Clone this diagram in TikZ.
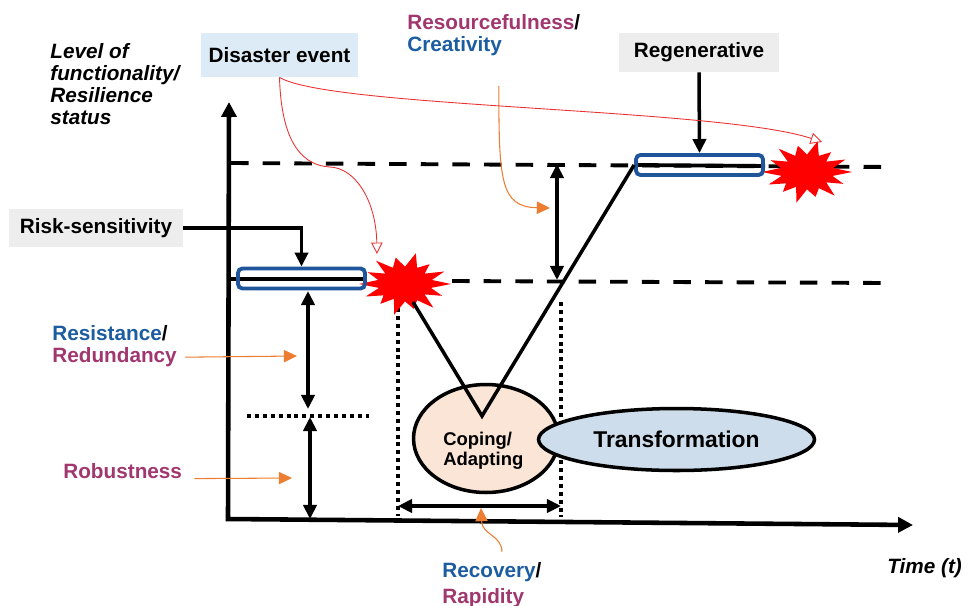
\documentclass[tikz,border=0pt]{standalone}
\usepackage{fontspec}
\setmainfont{Liberation Sans}
\usetikzlibrary{arrows.meta,shapes.geometric}

\definecolor{resblue}{RGB}{28,92,160}
\definecolor{resplum}{RGB}{160,55,110}
\definecolor{hintorange}{RGB}{237,125,49}
\definecolor{hintred}{RGB}{235,50,50}
\definecolor{burstred}{RGB}{255,0,0}
\definecolor{frameblue}{RGB}{30,85,155}
\definecolor{eventfill}{RGB}{221,235,247}
\definecolor{greyfill}{RGB}{237,237,237}
\definecolor{copefill}{RGB}{251,229,214}
\definecolor{transfill}{RGB}{205,221,235}

\tikzset{
  burst/.pic={
    \fill[burstred] (0:1) -- (13:.58) -- (26:.9) -- (39:.55) -- (52:1) -- (64:.6)
      -- (77:.85) -- (90:.58) -- (103:1.05) -- (116:.55) -- (129:.85) -- (141:.6)
      -- (154:.95) -- (167:.58) -- (180:1) -- (193:.6) -- (206:.9) -- (219:.55)
      -- (231:1) -- (244:.6) -- (257:.9) -- (270:.58) -- (283:1.05) -- (296:.6)
      -- (309:.85) -- (321:.55) -- (334:.95) -- (347:.6) -- cycle;
  }
}

\begin{document}
\begin{tikzpicture}[x=0.02cm, y=-0.02cm,
  font=\fontsize{11.8}{12.6}\selectfont\bfseries,
  every node/.style={inner sep=0pt},
  tagbox/.style={minimum height=0.78cm, text=black},
  levelbox/.style={draw=frameblue, line width=2.2pt, rounded corners=2.5pt,
    minimum width=2.54cm, minimum height=0.4cm},
  axisline/.style={line width=2.6pt, line join=miter},
  level/.style={line width=2.2pt, dash pattern=on 10pt off 8pt},
  dotline/.style={line width=2.3pt, dash pattern=on 2.3pt off 2.2pt},
  blkarrow/.style={line width=2pt, -{Triangle[length=8pt,width=7.5pt]}},
  twoway/.style={line width=2pt,
    {Triangle[length=8pt,width=7.5pt]}-{Triangle[length=8pt,width=7.5pt]}},
  hintarrow/.style={hintorange, line width=0.6pt, -{Triangle[length=7.5pt,width=7pt]}},
  eventarrow/.style={hintred, line width=0.5pt, -{Triangle[open,length=6.5pt,width=6.5pt]}},
  phase/.style={ellipse, draw, line width=2pt},
]
  \useasboundingbox (0,0) rectangle (979,605);

  % --- Axes ---
  \draw[axisline, {Triangle[length=8.5pt,width=8.5pt]}-{Triangle[length=8.5pt,width=8.5pt]}]
    (229,102) -- (228,519) -- (913,525);

  % --- Resilience levels ---
  \draw[level] (231,163) -- (892,167);
  \draw[level] (452,281) -- (888,283);
  \draw[line width=2.2pt] (227,279) -- (367,279);
  \draw[line width=2.2pt] (634,165) -- (765,166);

  % --- Recovery window ---
  \draw[dotline] (398,308) -- (398,516);
  \draw[dotline] (561,302) -- (561,517);
  \draw[dotline] (247,416) -- (369,416);

  % --- Phases ---
  \node[phase, fill=copefill, minimum width=2.9cm, minimum height=2.16cm]
    (coping) at (486,438.5) {};
  \node[phase, fill=transfill, minimum width=5.52cm, minimum height=1.24cm,
    font=\fontsize{13}{15}\selectfont\bfseries] (transform) at (676.5,439.5) {Transformation};
  \node[anchor=north west, align=left, font=\fontsize{10.5}{11.3}\selectfont\bfseries]
    (copetext) at (443,432) {Coping/\\Adapting};

  % --- Bursts ---
  \pic[shift={(405,284)}, xscale=46, yscale=30] {burst};
  \pic[shift={(807,172)}, xscale=45, yscale=30] {burst};

  % --- Level boxes ---
  \node[levelbox] (lowbox) at (301.5,278.5) {};
  \node[levelbox] (highbox) at (699.5,165) {};

  % --- Disruption and recovery path ---
  \coordinate (drop) at (413,302);
  \coordinate (trough) at (482,416);
  \draw[line width=2pt] (drop) -- (trough) -- (highbox.west);

  % --- Labels ---
  \node[tagbox, fill=eventfill, minimum width=3.14cm, minimum height=0.88cm]
    (disaster) at (279.5,55) {Disaster event};
  \node[tagbox, fill=greyfill, minimum width=3.2cm] (regen) at (699,52.5) {Regenerative};
  \node[tagbox, fill=greyfill, minimum width=3.48cm, minimum height=0.76cm]
    (risk) at (96,228) {Risk-sensitivity};

  \node[anchor=north west, align=left, font=\fontsize{11.8}{12.6}\selectfont\bfseries\itshape]
    (ylab) at (50,43) {Level of\\functionality/\\Resilience\\status};
  \node[anchor=base west, font=\fontsize{11.8}{12.6}\selectfont\bfseries\itshape]
    (xlab) at (887,573) {Time (t)};
  \node[anchor=north west, align=left] (resource) at (407,14)
    {{\color{resplum}Resourcefulness}/\\{\color{resblue}Creativity}};
  \node[anchor=north west, align=left] (resist) at (52,325)
    {{\color{resblue}Resistance}/\\{\color{resplum}Redundancy}};
  \node[anchor=base west, text=resplum] (robust) at (63,478) {Robustness};
  \node[anchor=north west, align=left] (recov) at (442,562)
    {{\color{resblue}Recovery}/\\[2pt]{\color{resplum}Rapidity}};

  % --- Connectors ---
  \draw[blkarrow] (risk.east) -| (lowbox.north);
  \draw[blkarrow] (regen.south) -- (highbox.north);
  \draw[twoway] (557,164) -- (557,280);
  \draw[twoway] (308,291) -- (308,409);
  \draw[twoway] (310,417) -- (310,519);
  \draw[twoway] (398,506) -- (561,506);

  % --- Hints ---
  \coordinate (resistto) at (297,356);
  \coordinate (robustto) at (292,478);
  \coordinate (resourceto) at (550,208);
  \coordinate (recovto) at (481,508);
  \draw[hintarrow] ([shift={(8,-10)}]resist.south east) -- (resistto);
  \draw[hintarrow] ([shift={(12,8)}]robust.east) -- (robustto);
  \draw[hintarrow] ([shift={(5,30)}]resource.south) .. controls (499,180) and (500,207) .. (resourceto);
  \draw[hintarrow] ([shift={(10,-10)}]recov.north) .. controls (502,535) and (482,535) .. (recovto);

  % --- Disaster event links ---
  \coordinate (lowhit) at (377,254);
  \coordinate (highhit) at (822,142);
  \draw[eventarrow] (disaster.south) .. controls (281,130) and (295,165) .. (330,167)
    .. controls (355,168) and (376,200) .. (lowhit);
  \draw[eventarrow] (disaster.south) .. controls (330,108) and (720,108) .. (highhit);

\end{tikzpicture}
\end{document}
